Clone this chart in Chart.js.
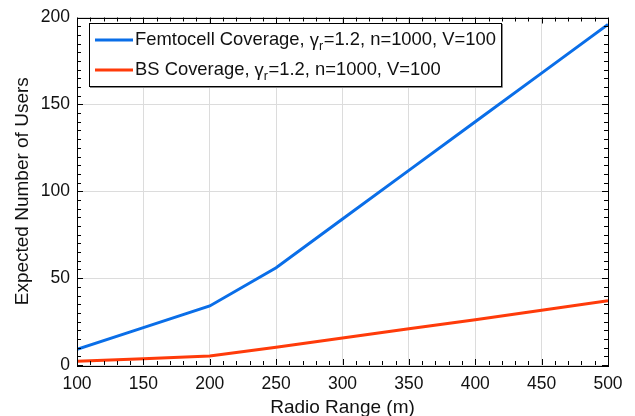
<!DOCTYPE html>
<html>
<head>
<meta charset="utf-8">
<script src="https://cdn.jsdelivr.net/npm/chart.js@4.4.0/dist/chart.umd.min.js"></script>
<style>
  html, body { margin: 0; padding: 0; background: #ffffff; }
  #wrap { width: 635px; height: 416px; }
</style>
</head>
<body>
<div id="wrap"><canvas id="c" width="635" height="416"></canvas></div>
<script>
const radioRange = [100, 150, 200, 250, 300, 350, 400, 450, 500];
const femtoUsers = [9, 21.5, 34, 56, 84, 112, 140, 168, 196];
const bsUsers = [2.1, 3.6, 5.2, 10.2, 15.5, 20.8, 26.1, 31.5, 37];
const xTicks = [100, 150, 200, 250, 300, 350, 400, 450, 500];
const yTicks = [0, 50, 100, 150, 200];
const seriesNames = ['Femtocell Coverage', 'BS Coverage'];
const legendSuffix = '=1.2, n=1000, V=100';

const FONT = '"Liberation Sans", Arial, Helvetica, sans-serif';
const BLUE = '#0a6ee8';
const RED = '#ff3b0a';

const frame = {
  id: 'frame',
  afterDatasetsDraw(chart) {
    const ctx = chart.ctx;
    const a = chart.chartArea;
    const xs = chart.scales.x, ys = chart.scales.y;
    ctx.save();
    ctx.strokeStyle = '#000';
    ctx.lineWidth = 1;
    ctx.beginPath();
    for (let v = xs.min; v <= xs.max + 1e-9; v += 10) {
      const px = Math.round(xs.getPixelForValue(v)) + 0.5;
      const len = (v % 50 === 0) ? 6 : 4;
      ctx.moveTo(px, a.bottom); ctx.lineTo(px, a.bottom - len);
      ctx.moveTo(px, a.top); ctx.lineTo(px, a.top + len);
    }
    for (let v = ys.min; v <= ys.max + 1e-9; v += 5) {
      const py = Math.round(ys.getPixelForValue(v)) + 0.5;
      const len = (v % 50 === 0) ? 6 : 4;
      ctx.moveTo(a.left, py); ctx.lineTo(a.left + len, py);
      ctx.moveTo(a.right, py); ctx.lineTo(a.right - len, py);
    }
    ctx.stroke();
    ctx.strokeRect(Math.round(a.left) + 0.5, Math.round(a.top) + 0.5,
                   Math.round(a.right - a.left), Math.round(a.bottom - a.top));

    // legend box
    const bx = 89, by = 23, bw = 412, bh = 63;
    ctx.fillStyle = '#fff';
    ctx.fillRect(bx, by, bw, bh);
    ctx.strokeStyle = '#888';
    ctx.beginPath();
    ctx.moveTo(bx + bw + 1.5, by + 1); ctx.lineTo(bx + bw + 1.5, by + bh + 1.5); ctx.lineTo(bx + 1, by + bh + 1.5);
    ctx.stroke();
    ctx.strokeStyle = '#000';
    ctx.strokeRect(bx + 0.5, by + 0.5, bw, bh);

    const rows = [
      { name: seriesNames[0], color: BLUE, y: 40 },
      { name: seriesNames[1], color: RED, y: 70 }
    ];
    rows.forEach(r => {
      ctx.strokeStyle = r.color;
      ctx.lineWidth = 3;
      ctx.beginPath();
      ctx.moveTo(95, r.y); ctx.lineTo(133, r.y);
      ctx.stroke();
      ctx.fillStyle = '#111';
      ctx.textBaseline = 'middle';
      ctx.textAlign = 'left';
      ctx.font = '18.4px ' + FONT;
      let x = 135;
      const t1 = r.name + ', ';
      ctx.fillText(t1, x, r.y);
      x += ctx.measureText(t1).width;
      ctx.fillText('\u03B3', x, r.y + 1);
      x += ctx.measureText('\u03B3').width;
      ctx.font = '12.5px ' + FONT;
      ctx.fillText('r', x, r.y + 7);
      x += ctx.measureText('r').width + 0.5;
      ctx.font = '18.4px ' + FONT;
      ctx.fillText(legendSuffix, x, r.y);
    });
    ctx.restore();
  }
};

new Chart(document.getElementById('c'), {
  type: 'line',
  data: {
    datasets: [
      { label: seriesNames[0], data: radioRange.map((x, i) => ({ x, y: femtoUsers[i] })),
        borderColor: BLUE, borderWidth: 3, pointRadius: 0, tension: 0, fill: false },
      { label: seriesNames[1], data: radioRange.map((x, i) => ({ x, y: bsUsers[i] })),
        borderColor: RED, borderWidth: 3, pointRadius: 0, tension: 0, fill: false }
    ]
  },
  options: {
    responsive: false,
    animation: false,
    devicePixelRatio: 1,
    layout: { padding: { top: 17, right: 27, left: 0, bottom: 0 } },
    plugins: { legend: { display: false }, tooltip: { enabled: false } },
    scales: {
      x: {
        type: 'linear', min: 100, max: 500,
        afterBuildTicks: s => { s.ticks = xTicks.map(v => ({ value: v })); },
        afterFit: s => { s.height = 51; },
        grid: { color: '#dcdcdc', lineWidth: 1, drawTicks: false },
        border: { display: false },
        ticks: { padding: 9, color: '#111', font: { family: FONT, size: 17.5 }, maxRotation: 0 },
        title: { display: true, text: 'Radio Range (m)', color: '#111',
                 font: { family: FONT, size: 19, lineHeight: 1 }, padding: { top: 0, bottom: -1.5 } }
      },
      y: {
        type: 'linear', min: 0, max: 200,
        afterBuildTicks: s => { s.ticks = yTicks.map(v => ({ value: v })); },
        afterFit: s => { s.width = 77; },
        grid: { color: '#dcdcdc', lineWidth: 1, drawTicks: false },
        border: { display: false },
        ticks: { padding: 7, color: '#111', font: { family: FONT, size: 17.5 } },
        title: { display: true, text: 'Expected Number of Users', color: '#111',
                 font: { family: FONT, size: 19, lineHeight: 1 }, padding: { top: 13, bottom: 0 } }
      }
    }
  },
  plugins: [frame]
});
</script>
</body>
</html>
